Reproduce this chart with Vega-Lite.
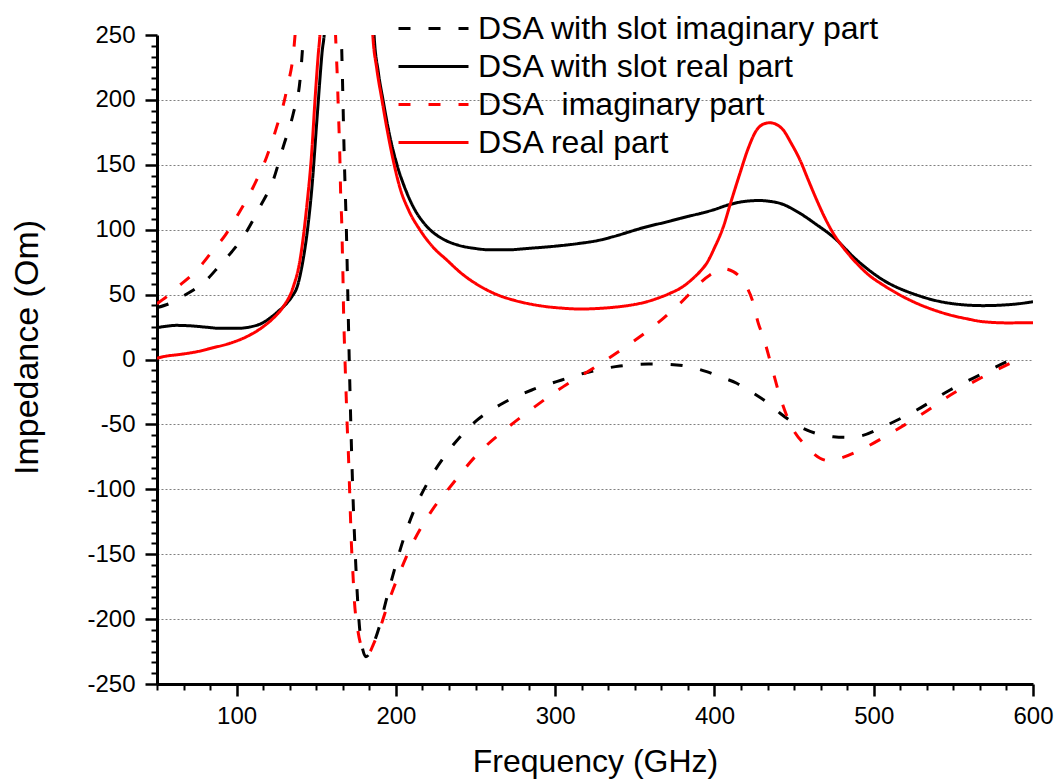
{
  "$schema": "https://vega.github.io/schema/vega-lite/v6.json",
  "width": 876,
  "height": 649,
  "autosize": {"type": "none"},
  "padding": {"left": 157, "top": 35, "right": 24, "bottom": 97},
  "config": {
    "font": "Liberation Sans",
    "view": {"stroke": null},
    "axis": {"domainColor": "black", "tickColor": "black", "labelColor": "black", "titleColor": "black", "titleFontWeight": "normal"}
  },
  "datasets": {
    "imp": [
      {"s": "DSA with slot imaginary part", "f": 50, "v": 40},
      {"s": "DSA with slot imaginary part", "f": 58.2, "v": 43.3},
      {"s": "DSA with slot imaginary part", "f": 65, "v": 48},
      {"s": "DSA with slot imaginary part", "f": 72.9, "v": 53.5},
      {"s": "DSA with slot imaginary part", "f": 80, "v": 60},
      {"s": "DSA with slot imaginary part", "f": 89.6, "v": 72.8},
      {"s": "DSA with slot imaginary part", "f": 97, "v": 83},
      {"s": "DSA with slot imaginary part", "f": 104.2, "v": 94.6},
      {"s": "DSA with slot imaginary part", "f": 114.7, "v": 117.7},
      {"s": "DSA with slot imaginary part", "f": 123, "v": 138.3},
      {"s": "DSA with slot imaginary part", "f": 129.3, "v": 164},
      {"s": "DSA with slot imaginary part", "f": 135.6, "v": 189.7},
      {"s": "DSA with slot imaginary part", "f": 139.8, "v": 215.3},
      {"s": "DSA with slot imaginary part", "f": 141.9, "v": 250},
      {"s": "DSA with slot imaginary part", "f": 145, "v": 330},
      {"s": "DSA with slot imaginary part", "f": 152, "v": 600},
      {"s": "DSA with slot imaginary part", "f": 158, "v": 600},
      {"s": "DSA with slot imaginary part", "f": 163, "v": 330},
      {"s": "DSA with slot imaginary part", "f": 166, "v": 238},
      {"s": "DSA with slot imaginary part", "f": 167.7, "v": 150},
      {"s": "DSA with slot imaginary part", "f": 168.9, "v": 100},
      {"s": "DSA with slot imaginary part", "f": 169.8, "v": 50},
      {"s": "DSA with slot imaginary part", "f": 170.7, "v": 0},
      {"s": "DSA with slot imaginary part", "f": 171.7, "v": -50},
      {"s": "DSA with slot imaginary part", "f": 172.9, "v": -100},
      {"s": "DSA with slot imaginary part", "f": 174.5, "v": -150},
      {"s": "DSA with slot imaginary part", "f": 176.2, "v": -190},
      {"s": "DSA with slot imaginary part", "f": 177.5, "v": -211},
      {"s": "DSA with slot imaginary part", "f": 179.3, "v": -224},
      {"s": "DSA with slot imaginary part", "f": 181.2, "v": -229},
      {"s": "DSA with slot imaginary part", "f": 183.1, "v": -227},
      {"s": "DSA with slot imaginary part", "f": 185.6, "v": -220},
      {"s": "DSA with slot imaginary part", "f": 189.6, "v": -205.8},
      {"s": "DSA with slot imaginary part", "f": 194.2, "v": -184},
      {"s": "DSA with slot imaginary part", "f": 199, "v": -162.2},
      {"s": "DSA with slot imaginary part", "f": 204.6, "v": -139},
      {"s": "DSA with slot imaginary part", "f": 211.5, "v": -115.9},
      {"s": "DSA with slot imaginary part", "f": 220.3, "v": -94.1},
      {"s": "DSA with slot imaginary part", "f": 231.9, "v": -72.3},
      {"s": "DSA with slot imaginary part", "f": 248.6, "v": -49.2},
      {"s": "DSA with slot imaginary part", "f": 266, "v": -34.5},
      {"s": "DSA with slot imaginary part", "f": 285.3, "v": -23.5},
      {"s": "DSA with slot imaginary part", "f": 304.1, "v": -15.8},
      {"s": "DSA with slot imaginary part", "f": 321.9, "v": -9.4},
      {"s": "DSA with slot imaginary part", "f": 340.7, "v": -5},
      {"s": "DSA with slot imaginary part", "f": 358.5, "v": -3.5},
      {"s": "DSA with slot imaginary part", "f": 376.3, "v": -4.2},
      {"s": "DSA with slot imaginary part", "f": 395.1, "v": -9.4},
      {"s": "DSA with slot imaginary part", "f": 403.5, "v": -13.3},
      {"s": "DSA with slot imaginary part", "f": 414, "v": -18.3},
      {"s": "DSA with slot imaginary part", "f": 424.4, "v": -26},
      {"s": "DSA with slot imaginary part", "f": 433, "v": -33},
      {"s": "DSA with slot imaginary part", "f": 441.2, "v": -41.4},
      {"s": "DSA with slot imaginary part", "f": 453.7, "v": -51.8},
      {"s": "DSA with slot imaginary part", "f": 464, "v": -57},
      {"s": "DSA with slot imaginary part", "f": 474.6, "v": -59.5},
      {"s": "DSA with slot imaginary part", "f": 483, "v": -60},
      {"s": "DSA with slot imaginary part", "f": 491.4, "v": -59},
      {"s": "DSA with slot imaginary part", "f": 505.9, "v": -51.8},
      {"s": "DSA with slot imaginary part", "f": 527, "v": -38.9},
      {"s": "DSA with slot imaginary part", "f": 547.9, "v": -23.5},
      {"s": "DSA with slot imaginary part", "f": 568.8, "v": -10.6},
      {"s": "DSA with slot imaginary part", "f": 585.6, "v": -0.4},
      {"s": "DSA with slot imaginary part", "f": 590, "v": 2},

      {"s": "DSA with slot real part", "f": 50, "v": 24.5},
      {"s": "DSA with slot real part", "f": 55, "v": 25.5},
      {"s": "DSA with slot real part", "f": 62, "v": 26.3},
      {"s": "DSA with slot real part", "f": 70, "v": 26},
      {"s": "DSA with slot real part", "f": 80, "v": 25},
      {"s": "DSA with slot real part", "f": 90, "v": 24},
      {"s": "DSA with slot real part", "f": 100, "v": 24},
      {"s": "DSA with slot real part", "f": 110, "v": 25.5},
      {"s": "DSA with slot real part", "f": 116, "v": 28},
      {"s": "DSA with slot real part", "f": 121, "v": 32},
      {"s": "DSA with slot real part", "f": 126, "v": 37},
      {"s": "DSA with slot real part", "f": 131.6, "v": 43.5},
      {"s": "DSA with slot real part", "f": 135, "v": 49},
      {"s": "DSA with slot real part", "f": 138, "v": 56},
      {"s": "DSA with slot real part", "f": 141.7, "v": 76.6},
      {"s": "DSA with slot real part", "f": 144.5, "v": 100},
      {"s": "DSA with slot real part", "f": 147.3, "v": 133},
      {"s": "DSA with slot real part", "f": 150.4, "v": 184.5},
      {"s": "DSA with slot real part", "f": 153.6, "v": 236},
      {"s": "DSA with slot real part", "f": 155.5, "v": 260},
      {"s": "DSA with slot real part", "f": 158, "v": 400},
      {"s": "DSA with slot real part", "f": 165, "v": 1200},
      {"s": "DSA with slot real part", "f": 175, "v": 1200},
      {"s": "DSA with slot real part", "f": 182, "v": 500},
      {"s": "DSA with slot real part", "f": 186.2, "v": 252},
      {"s": "DSA with slot real part", "f": 189, "v": 221},
      {"s": "DSA with slot real part", "f": 191.9, "v": 200},
      {"s": "DSA with slot real part", "f": 196, "v": 173},
      {"s": "DSA with slot real part", "f": 200.7, "v": 150},
      {"s": "DSA with slot real part", "f": 207, "v": 128},
      {"s": "DSA with slot real part", "f": 213, "v": 113},
      {"s": "DSA with slot real part", "f": 217, "v": 106},
      {"s": "DSA with slot real part", "f": 221.4, "v": 100},
      {"s": "DSA with slot real part", "f": 230, "v": 92.5},
      {"s": "DSA with slot real part", "f": 238.2, "v": 88.4},
      {"s": "DSA with slot real part", "f": 250, "v": 85.5},
      {"s": "DSA with slot real part", "f": 259.1, "v": 84.5},
      {"s": "DSA with slot real part", "f": 270, "v": 84.5},
      {"s": "DSA with slot real part", "f": 284.2, "v": 85.7},
      {"s": "DSA with slot real part", "f": 300, "v": 87.3},
      {"s": "DSA with slot real part", "f": 315.6, "v": 89.5},
      {"s": "DSA with slot real part", "f": 328.1, "v": 92},
      {"s": "DSA with slot real part", "f": 336.3, "v": 94.6},
      {"s": "DSA with slot real part", "f": 357.5, "v": 102.3},
      {"s": "DSA with slot real part", "f": 370, "v": 106},
      {"s": "DSA with slot real part", "f": 378.4, "v": 108.7},
      {"s": "DSA with slot real part", "f": 399.1, "v": 115.2},
      {"s": "DSA with slot real part", "f": 409.8, "v": 119.5},
      {"s": "DSA with slot real part", "f": 420.3, "v": 122},
      {"s": "DSA with slot real part", "f": 428.6, "v": 122.5},
      {"s": "DSA with slot real part", "f": 435, "v": 121.8},
      {"s": "DSA with slot real part", "f": 441.2, "v": 120.3},
      {"s": "DSA with slot real part", "f": 453.7, "v": 112.6},
      {"s": "DSA with slot real part", "f": 464, "v": 104},
      {"s": "DSA with slot real part", "f": 474.4, "v": 94.6},
      {"s": "DSA with slot real part", "f": 489.3, "v": 76.7},
      {"s": "DSA with slot real part", "f": 505.8, "v": 61.3},
      {"s": "DSA with slot real part", "f": 527, "v": 49.7},
      {"s": "DSA with slot real part", "f": 547.9, "v": 43.3},
      {"s": "DSA with slot real part", "f": 568.6, "v": 41.5},
      {"s": "DSA with slot real part", "f": 589.8, "v": 42.8},
      {"s": "DSA with slot real part", "f": 600, "v": 44.5},

      {"s": "DSA\u00a0 imaginary part", "f": 50, "v": 43},
      {"s": "DSA\u00a0 imaginary part", "f": 56.1, "v": 48.4},
      {"s": "DSA\u00a0 imaginary part", "f": 63, "v": 56},
      {"s": "DSA\u00a0 imaginary part", "f": 70.7, "v": 63.8},
      {"s": "DSA\u00a0 imaginary part", "f": 78, "v": 73},
      {"s": "DSA\u00a0 imaginary part", "f": 85.3, "v": 84.4},
      {"s": "DSA\u00a0 imaginary part", "f": 93, "v": 96},
      {"s": "DSA\u00a0 imaginary part", "f": 100, "v": 110},
      {"s": "DSA\u00a0 imaginary part", "f": 110.5, "v": 133.1},
      {"s": "DSA\u00a0 imaginary part", "f": 118.9, "v": 156.2},
      {"s": "DSA\u00a0 imaginary part", "f": 125.2, "v": 179.4},
      {"s": "DSA\u00a0 imaginary part", "f": 131.4, "v": 207.6},
      {"s": "DSA\u00a0 imaginary part", "f": 136.6, "v": 248.7},
      {"s": "DSA\u00a0 imaginary part", "f": 140, "v": 330},
      {"s": "DSA\u00a0 imaginary part", "f": 148, "v": 600},
      {"s": "DSA\u00a0 imaginary part", "f": 156, "v": 600},
      {"s": "DSA\u00a0 imaginary part", "f": 160, "v": 330},
      {"s": "DSA\u00a0 imaginary part", "f": 162.4, "v": 241},
      {"s": "DSA\u00a0 imaginary part", "f": 163.2, "v": 217.9},
      {"s": "DSA\u00a0 imaginary part", "f": 163.8, "v": 194.8},
      {"s": "DSA\u00a0 imaginary part", "f": 164.4, "v": 173},
      {"s": "DSA\u00a0 imaginary part", "f": 164.9, "v": 151.2},
      {"s": "DSA\u00a0 imaginary part", "f": 165.3, "v": 128},
      {"s": "DSA\u00a0 imaginary part", "f": 166, "v": 105},
      {"s": "DSA\u00a0 imaginary part", "f": 166.4, "v": 83.1},
      {"s": "DSA\u00a0 imaginary part", "f": 166.8, "v": 61.2},
      {"s": "DSA\u00a0 imaginary part", "f": 167.1, "v": 39.4},
      {"s": "DSA\u00a0 imaginary part", "f": 167.6, "v": 16.3},
      {"s": "DSA\u00a0 imaginary part", "f": 168.2, "v": -6.8},
      {"s": "DSA\u00a0 imaginary part", "f": 168.8, "v": -28.7},
      {"s": "DSA\u00a0 imaginary part", "f": 169.4, "v": -50.5},
      {"s": "DSA\u00a0 imaginary part", "f": 170.2, "v": -73.6},
      {"s": "DSA\u00a0 imaginary part", "f": 170.8, "v": -95.4},
      {"s": "DSA\u00a0 imaginary part", "f": 171.4, "v": -118.5},
      {"s": "DSA\u00a0 imaginary part", "f": 172, "v": -140.4},
      {"s": "DSA\u00a0 imaginary part", "f": 172.9, "v": -162.2},
      {"s": "DSA\u00a0 imaginary part", "f": 173.9, "v": -185.3},
      {"s": "DSA\u00a0 imaginary part", "f": 175.9, "v": -207.1},
      {"s": "DSA\u00a0 imaginary part", "f": 178, "v": -220},
      {"s": "DSA\u00a0 imaginary part", "f": 180.6, "v": -226.4},
      {"s": "DSA\u00a0 imaginary part", "f": 183.3, "v": -225.6},
      {"s": "DSA\u00a0 imaginary part", "f": 186, "v": -219},
      {"s": "DSA\u00a0 imaginary part", "f": 189.6, "v": -208.4},
      {"s": "DSA\u00a0 imaginary part", "f": 195.8, "v": -185.3},
      {"s": "DSA\u00a0 imaginary part", "f": 202.6, "v": -163.5},
      {"s": "DSA\u00a0 imaginary part", "f": 211, "v": -140.4},
      {"s": "DSA\u00a0 imaginary part", "f": 221.4, "v": -118.5},
      {"s": "DSA\u00a0 imaginary part", "f": 235, "v": -96.7},
      {"s": "DSA\u00a0 imaginary part", "f": 250.7, "v": -73.6},
      {"s": "DSA\u00a0 imaginary part", "f": 269.6, "v": -53},
      {"s": "DSA\u00a0 imaginary part", "f": 287.3, "v": -36.3},
      {"s": "DSA\u00a0 imaginary part", "f": 305.1, "v": -20.9},
      {"s": "DSA\u00a0 imaginary part", "f": 323.9, "v": -6.8},
      {"s": "DSA\u00a0 imaginary part", "f": 342.8, "v": 8.6},
      {"s": "DSA\u00a0 imaginary part", "f": 361.6, "v": 25.3},
      {"s": "DSA\u00a0 imaginary part", "f": 378.4, "v": 43.3},
      {"s": "DSA\u00a0 imaginary part", "f": 397.2, "v": 65.1},
      {"s": "DSA\u00a0 imaginary part", "f": 405, "v": 70},
      {"s": "DSA\u00a0 imaginary part", "f": 411.8, "v": 67.7},
      {"s": "DSA\u00a0 imaginary part", "f": 418.1, "v": 60},
      {"s": "DSA\u00a0 imaginary part", "f": 424.4, "v": 43.3},
      {"s": "DSA\u00a0 imaginary part", "f": 427.5, "v": 28},
      {"s": "DSA\u00a0 imaginary part", "f": 430.6, "v": 17.6},
      {"s": "DSA\u00a0 imaginary part", "f": 435.9, "v": -5.5},
      {"s": "DSA\u00a0 imaginary part", "f": 441.2, "v": -28.7},
      {"s": "DSA\u00a0 imaginary part", "f": 447.4, "v": -49.2},
      {"s": "DSA\u00a0 imaginary part", "f": 457.9, "v": -67.2},
      {"s": "DSA\u00a0 imaginary part", "f": 466.3, "v": -76.1},
      {"s": "DSA\u00a0 imaginary part", "f": 472, "v": -78},
      {"s": "DSA\u00a0 imaginary part", "f": 478.8, "v": -76.1},
      {"s": "DSA\u00a0 imaginary part", "f": 495.6, "v": -67.2},
      {"s": "DSA\u00a0 imaginary part", "f": 512.3, "v": -55.6},
      {"s": "DSA\u00a0 imaginary part", "f": 531.1, "v": -41.4},
      {"s": "DSA\u00a0 imaginary part", "f": 550, "v": -26},
      {"s": "DSA\u00a0 imaginary part", "f": 568.8, "v": -13.2},
      {"s": "DSA\u00a0 imaginary part", "f": 587.6, "v": -1.7},
      {"s": "DSA\u00a0 imaginary part", "f": 593, "v": 1.5},

      {"s": "DSA real part", "f": 50, "v": 1},
      {"s": "DSA real part", "f": 54, "v": 2.2},
      {"s": "DSA real part", "f": 65, "v": 4},
      {"s": "DSA real part", "f": 75, "v": 6},
      {"s": "DSA real part", "f": 85, "v": 9},
      {"s": "DSA real part", "f": 95.8, "v": 12.5},
      {"s": "DSA real part", "f": 106.3, "v": 17.6},
      {"s": "DSA real part", "f": 116.7, "v": 25.3},
      {"s": "DSA real part", "f": 123, "v": 31.8},
      {"s": "DSA real part", "f": 129.3, "v": 40.7},
      {"s": "DSA real part", "f": 135.6, "v": 56.1},
      {"s": "DSA real part", "f": 139.8, "v": 76.7},
      {"s": "DSA real part", "f": 144, "v": 117.7},
      {"s": "DSA real part", "f": 147.1, "v": 158.9},
      {"s": "DSA real part", "f": 149.2, "v": 199.9},
      {"s": "DSA real part", "f": 151.3, "v": 236},
      {"s": "DSA real part", "f": 152.3, "v": 251},
      {"s": "DSA real part", "f": 155, "v": 380},
      {"s": "DSA real part", "f": 165, "v": 1200},
      {"s": "DSA real part", "f": 175, "v": 1200},
      {"s": "DSA real part", "f": 181, "v": 500},
      {"s": "DSA real part", "f": 185.4, "v": 252},
      {"s": "DSA real part", "f": 188, "v": 224},
      {"s": "DSA real part", "f": 191.1, "v": 201},
      {"s": "DSA real part", "f": 194.5, "v": 177},
      {"s": "DSA real part", "f": 198.4, "v": 153},
      {"s": "DSA real part", "f": 202.6, "v": 132},
      {"s": "DSA real part", "f": 208, "v": 115},
      {"s": "DSA real part", "f": 215, "v": 100},
      {"s": "DSA real part", "f": 223, "v": 87},
      {"s": "DSA real part", "f": 231.9, "v": 76.7},
      {"s": "DSA real part", "f": 242, "v": 65.5},
      {"s": "DSA real part", "f": 252.8, "v": 56.5},
      {"s": "DSA real part", "f": 263, "v": 50.2},
      {"s": "DSA real part", "f": 273.7, "v": 45.8},
      {"s": "DSA real part", "f": 284, "v": 42.8},
      {"s": "DSA real part", "f": 294.7, "v": 40.7},
      {"s": "DSA real part", "f": 305, "v": 39.5},
      {"s": "DSA real part", "f": 315.6, "v": 38.9},
      {"s": "DSA real part", "f": 328.1, "v": 39.4},
      {"s": "DSA real part", "f": 336.5, "v": 40.2},
      {"s": "DSA real part", "f": 347, "v": 41.8},
      {"s": "DSA real part", "f": 357.5, "v": 44.5},
      {"s": "DSA real part", "f": 365, "v": 47.5},
      {"s": "DSA real part", "f": 372.1, "v": 51},
      {"s": "DSA real part", "f": 380, "v": 56},
      {"s": "DSA real part", "f": 387, "v": 63},
      {"s": "DSA real part", "f": 391.5, "v": 68.5},
      {"s": "DSA real part", "f": 395.1, "v": 74.1},
      {"s": "DSA real part", "f": 400, "v": 86},
      {"s": "DSA real part", "f": 405.6, "v": 102.3},
      {"s": "DSA real part", "f": 410, "v": 120},
      {"s": "DSA real part", "f": 416, "v": 143.4},
      {"s": "DSA real part", "f": 421, "v": 162},
      {"s": "DSA real part", "f": 426.5, "v": 176.8},
      {"s": "DSA real part", "f": 431, "v": 181.5},
      {"s": "DSA real part", "f": 434.9, "v": 182.4},
      {"s": "DSA real part", "f": 439, "v": 181},
      {"s": "DSA real part", "f": 443.2, "v": 176.8},
      {"s": "DSA real part", "f": 448, "v": 167},
      {"s": "DSA real part", "f": 453.7, "v": 153.7},
      {"s": "DSA real part", "f": 459, "v": 138},
      {"s": "DSA real part", "f": 464.2, "v": 122.9},
      {"s": "DSA real part", "f": 469, "v": 110},
      {"s": "DSA real part", "f": 474.6, "v": 97.2},
      {"s": "DSA real part", "f": 481, "v": 86},
      {"s": "DSA real part", "f": 489.3, "v": 74.1},
      {"s": "DSA real part", "f": 497, "v": 65},
      {"s": "DSA real part", "f": 505.9, "v": 57.4},
      {"s": "DSA real part", "f": 516, "v": 50},
      {"s": "DSA real part", "f": 527, "v": 43.3},
      {"s": "DSA real part", "f": 537, "v": 38.5},
      {"s": "DSA real part", "f": 547.9, "v": 34.3},
      {"s": "DSA real part", "f": 558, "v": 31.5},
      {"s": "DSA real part", "f": 568.8, "v": 29.1},
      {"s": "DSA real part", "f": 584, "v": 28.2},
      {"s": "DSA real part", "f": 600, "v": 28.4}
    ]
  },
  "data": {"name": "imp"},
  "resolve": {"axis": {"x": "independent", "y": "independent"}},
  "layer": [
    {
      "mark": {"type": "line", "strokeWidth": 3, "clip": true, "interpolate": "monotone"},
      "encoding": {
        "x": {
          "field": "f", "type": "quantitative",
          "scale": {"domain": [50, 600], "nice": false, "zero": false},
          "axis": {
            "orient": "bottom", "values": [100, 200, 300, 400, 500, 600],
            "tickSize": 12, "tickWidth": 2.5, "domainWidth": 3, "grid": false,
            "labelFontSize": 24, "labelPadding": 8, "labelFlush": false,
            "title": "Frequency (GHz)", "titleFontSize": 32, "titlePadding": 18
          }
        },
        "y": {
          "field": "v", "type": "quantitative",
          "scale": {"domain": [-250, 250], "nice": false, "zero": false},
          "axis": {
            "orient": "left", "values": [-250, -200, -150, -100, -50, 0, 50, 100, 150, 200, 250],
            "labelExpr": "datum.value < 0 ? '-' + abs(datum.value) : '' + datum.value",
            "tickSize": 12, "tickWidth": 2.5, "domainWidth": 3,
            "grid": true, "gridColor": "#808080", "gridDash": [2, 2], "gridWidth": 1,
            "gridOpacity": {"condition": {"test": "abs(datum.value) == 250", "value": 0}, "value": 1},
            "labelFontSize": 24, "labelPadding": 10, "labelFlush": false,
            "title": "Impedance (Om)", "titleFontSize": 34, "titlePadding": 42, "titleY": 312
          }
        },
        "color": {
          "field": "s", "type": "nominal",
          "scale": {
            "domain": ["DSA with slot imaginary part", "DSA with slot real part", "DSA\u00a0 imaginary part", "DSA real part"],
            "range": ["#000000", "#000000", "#ff0000", "#ff0000"]
          },
          "legend": {
            "orient": "none", "legendX": 255, "legendY": -28, "title": null,
            "labelFontSize": 32, "labelColor": "black", "labelLimit": 0,
            "symbolType": "M-1.75,0L1.75,0", "symbolSize": 1600, "symbolStrokeWidth": 3,
            "labelOffset": 23, "rowPadding": 0
          }
        },
        "strokeDash": {
          "field": "s", "type": "nominal",
          "scale": {
            "domain": ["DSA with slot imaginary part", "DSA with slot real part", "DSA\u00a0 imaginary part", "DSA real part"],
            "range": [[12, 18], [1, 0], [12, 18], [1, 0]]
          }
        }
      }
    },
    {
      "mark": {"type": "point", "opacity": 0},
      "encoding": {
        "x": {
          "field": "f", "type": "quantitative",
          "axis": {
            "orient": "bottom", "labels": false, "domain": false, "grid": false, "title": null,
            "tickSize": 6, "tickWidth": 2,
            "values": [50, 66.667, 83.333, 116.667, 133.333, 150, 166.667, 183.333, 216.667, 233.333, 250, 266.667, 283.333, 316.667, 333.333, 350, 366.667, 383.333, 416.667, 433.333, 450, 466.667, 483.333, 516.667, 533.333, 550, 566.667, 583.333]
          }
        },
        "y": {
          "field": "v", "type": "quantitative",
          "axis": {
            "orient": "left", "labels": false, "domain": false, "grid": false, "title": null,
            "tickSize": 6, "tickWidth": 2,
            "values": [-241.667, -233.333, -225, -216.667, -208.333, -191.667, -183.333, -175, -166.667, -158.333, -141.667, -133.333, -125, -116.667, -108.333, -91.667, -83.333, -75, -66.667, -58.333, -41.667, -33.333, -25, -16.667, -8.333, 8.333, 16.667, 25, 33.333, 41.667, 58.333, 66.667, 75, 83.333, 91.667, 108.333, 116.667, 125, 133.333, 141.667, 158.333, 166.667, 175, 183.333, 191.667, 208.333, 216.667, 225, 233.333, 241.667]
          }
        }
      }
    }
  ]
}
